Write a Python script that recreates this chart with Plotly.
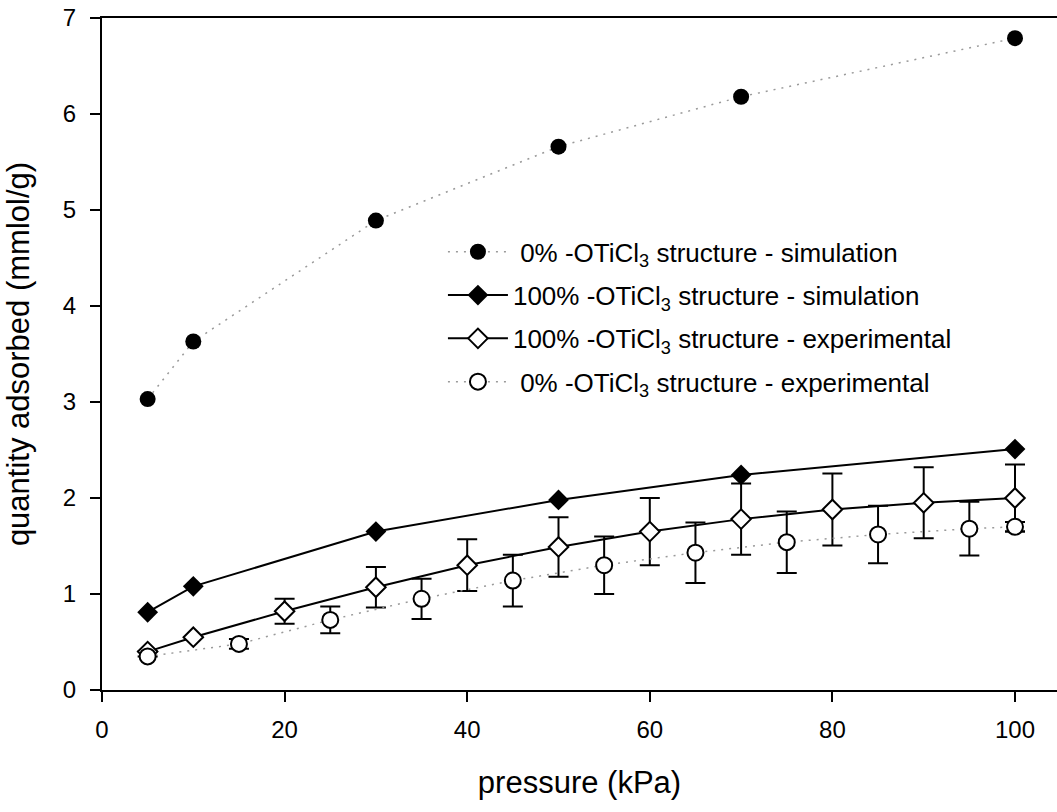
import plotly.graph_objects as go

# Pressure points (kPa)
p_sim = [5, 10, 30, 50, 70, 100]
p_exp100 = [5, 10, 20, 30, 40, 50, 60, 70, 80, 90, 100]
p_exp0 = [5, 15, 25, 35, 45, 55, 65, 75, 85, 95, 100]

# Quantity adsorbed (mmol/g)
q_sim0 = [3.03, 3.63, 4.89, 5.66, 6.18, 6.79]
q_sim100 = [0.81, 1.08, 1.65, 1.98, 2.24, 2.51]
q_exp100 = [0.40, 0.55, 0.82, 1.07, 1.30, 1.49, 1.65, 1.78, 1.88, 1.95, 2.00]
q_exp0 = [0.35, 0.48, 0.73, 0.95, 1.14, 1.30, 1.43, 1.54, 1.62, 1.68, 1.70]

# Experimental uncertainty
err_exp100 = [0, 0, 0.13, 0.21, 0.27, 0.31, 0.35, 0.37, 0.375, 0.37, 0.35]
err_exp0 = [0, 0.05, 0.14, 0.21, 0.27, 0.30, 0.315, 0.32, 0.30, 0.28, 0.05]

# Legend labels; the 0% rows carry a narrow lead space so the digits line up
names = [
    "\u20080% -OTiCl<sub>3</sub> structure - simulation",
    "100% -OTiCl<sub>3</sub> structure - simulation",
    "100% -OTiCl<sub>3</sub> structure - experimental",
    "\u20080% -OTiCl<sub>3</sub> structure - experimental",
]

FONT = "Arial, Liberation Sans, sans-serif"
DOT = "#9a9a9a"
DOTDASH = "2px,6px"

fig = go.Figure()

fig.add_trace(go.Scatter(
    x=p_sim, y=q_sim0, name=names[0], mode="lines+markers", legendgroup="a",
    line=dict(color=DOT, width=1.5, dash=DOTDASH),
    marker=dict(symbol="circle", size=16, color="black", line=dict(width=0)),
))
fig.add_trace(go.Scatter(
    x=p_sim, y=q_sim100, name=names[1], mode="lines+markers", legendgroup="b",
    line=dict(color="black", width=2),
    marker=dict(symbol="diamond", size=16, color="black", line=dict(width=0)),
))
fig.add_trace(go.Scatter(
    x=p_exp100, y=q_exp100, name=names[2], mode="lines+markers", legendgroup="c",
    line=dict(color="black", width=2),
    marker=dict(symbol="diamond", size=15, color="white", line=dict(color="black", width=2)),
    error_y=dict(type="data", array=err_exp100, color="black", thickness=2, width=10),
))
fig.add_trace(go.Scatter(
    x=p_exp0, y=q_exp0, name=names[3], mode="lines+markers", legendgroup="d",
    line=dict(color=DOT, width=1.5, dash=DOTDASH),
    marker=dict(symbol="circle", size=16, color="white", line=dict(color="black", width=2)),
    error_y=dict(type="data", array=err_exp0, color="black", thickness=2, width=10),
))

fig.update_layout(
    width=1057, height=812,
    margin=dict(l=102, r=0, t=18, b=122),
    paper_bgcolor="white", plot_bgcolor="white",
    font=dict(family=FONT, size=24, color="black"),
    showlegend=True,
    legend=dict(
        x=0.357, y=0.687, xanchor="left", yanchor="top",
        bgcolor="rgba(0,0,0,0)", borderwidth=0,
        font=dict(family=FONT, size=26, color="black"),
        itemwidth=60, tracegroupgap=6.5,
    ),
)

fig.update_xaxes(
    range=[0, 104.6], tickvals=[0, 20, 40, 60, 80, 100],
    showline=True, linecolor="black", linewidth=2, mirror=True,
    ticks="outside", ticklen=10, tickwidth=2, tickcolor="black",
    showgrid=False, zeroline=False, ticklabelstandoff=7,
    tickfont=dict(family=FONT, size=24),
    title=dict(text="pressure (kPa)", font=dict(family=FONT, size=31), standoff=30),
)
fig.update_yaxes(
    range=[0, 7], tickvals=[0, 1, 2, 3, 4, 5, 6, 7],
    showline=True, linecolor="black", linewidth=2, mirror=False,
    ticks="outside", ticklen=10, tickwidth=2, tickcolor="black",
    showgrid=False, zeroline=False, ticklabelstandoff=9,
    tickfont=dict(family=FONT, size=24),
    title=dict(text="quantity adsorbed (mmlol/g)", font=dict(family=FONT, size=31), standoff=24),
)

fig.write_html("out.html")
